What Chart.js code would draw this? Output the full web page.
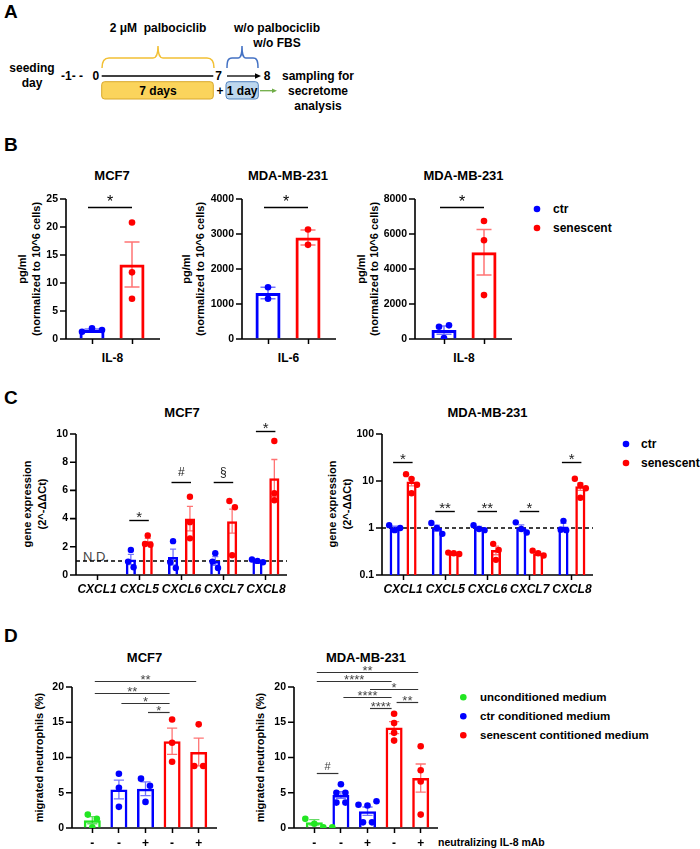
<!DOCTYPE html>
<html><head><meta charset="utf-8">
<script src="https://cdn.jsdelivr.net/npm/chart.js@4.4.1/dist/chart.umd.min.js"></script>
<style>
html,body{margin:0;padding:0;background:#fff;}
#page{position:relative;width:700px;height:849px;overflow:hidden;}
#txt{position:absolute;left:0;top:0;}
canvas{position:absolute;}
</style></head><body><div id="page"><svg id="txt" width="700" height="849" xmlns="http://www.w3.org/2000/svg"></svg></div>
<script>
// ================= DATA =================
// Panel B (ELISA, pg/ml normalized to 10^6 cells)
const bSeriesNames = ['ctr', 'senescent'];
const bTitles = ['MCF7', 'MDA-MB-231', 'MDA-MB-231'];
const bGenes = ['IL-8', 'IL-6', 'IL-8'];
const b1Means = [1.6, 13.3],   b1Sems = [0.18, 4.0],   b1Pts = [[1.3, 1.9, 1.6], [20.8, 11.9, 7.2]];
const b2Means = [1315, 2900],  b2Sems = [165, 215],    b2Pts = [[1480, 1150], [3130, 2690]];
const b3Means = [513, 4960],   b3Sems = [235, 1300],   b3Pts = [[700, 780, 60], [6740, 5640, 2510]];
const bYMax = [25, 4000, 8000], bYStep = [5, 1000, 2000];
const bSig = [[0, 1, 23.57, '*'], [0, 1, 3771, '*'], [0, 1, 7543, '*']];

// Panel C (gene expression 2^-ddCt)
const cTitles = ['MCF7', 'MDA-MB-231'];
const cGenes = ['CXCL1', 'CXCL5', 'CXCL6', 'CXCL7', 'CXCL8'];
const c1CtrMeans = [null, 1.1, 1.27, 1.0, 1.0],  c1CtrSems = [null, 0.36, 0.56, 0.31, 0.06];
const c1CtrPts = [[], [1.78, 0.95, 0.55], [2.4, 0.9, 0.5], [1.55, 0.95, 0.5], [1.1, 1.0, 0.9]];
const c1SenMeans = [null, 2.4, 4.0, 3.82, 6.87], c1SenSems = [null, 0.2, 0.87, 0.85, 1.32];
const c1SenPts = [[], [2.8, 2.2, 2.15], [5.55, 3.75, 2.6], [5.25, 4.8, 1.4], [9.5, 5.8, 5.3]];
const c2CtrMeans = [1.02, 1.0, 1.0, 1.02, 1.08],  c2CtrSems = [0.07, 0.15, 0.08, 0.15, 0.17];
const c2CtrPts = [[1.15, 0.9, 1.0], [1.28, 1.0, 0.75], [1.15, 0.95, 0.9], [1.32, 0.95, 0.8], [1.42, 0.92, 0.9]];
const c2SenMeans = [9.7, 0.29, 0.34, 0.29, 7.7],  c2SenSems = [1.8, 0.01, 0.07, 0.02, 1.4];
const c2SenPts = [[14, 11, 8.3, 5.5], [0.3, 0.29, 0.28], [0.46, 0.34, 0.21], [0.33, 0.29, 0.26], [11.2, 8.2, 7.0, 4.4]];
const c1YTicks = [0, 2, 4, 6, 8, 10];
const c2YTicks = [0.1, 1, 10, 100];
const c1Sig = [[1, 1, 3.91, '*'], [2, 2, 6.59, '#'], [3, 3, 6.59, '§'], [4, 4, 10.23, '*']];
const c2Sig = [[0, 0, 25.9, '*'], [1, 1, 2.3, '**'], [2, 2, 2.3, '**'], [3, 3, 2.3, '*'], [4, 4, 25.9, '*']];

// Panel D (neutrophil migration %)
const dTitles = ['MCF7', 'MDA-MB-231'];
const dTreat = ['-', '-', '+', '-', '+'];
const dGroups = ['unconditioned medium', 'ctr conditioned medium', 'senescent contitioned medium'];
const dGroupOf = [0, 1, 1, 2, 2];
const d1Means = [1.1, 5.47, 5.57, 12.3, 10.77], d1Sems = [0.5, 1.33, 0.98, 1.86, 1.97];
const d1Pts = [[1.9, 1.3, 0.1], [7.7, 5.7, 3.0], [7.0, 6.0, 3.7], [15.4, 12.1, 9.4], [14.7, 8.8, 8.8]];
const d2Means = [0.8, 4.68, 2.38, 14.25, 7.08], d2Sems = [0.38, 0.48, 0.6, 0.85, 2.0];
const d2Pts = [[1.9, 1.3, 0.6, 0.1, 0.1], [6.2, 5.0, 5.0, 3.6, 3.6], [3.3, 3.2, 3.8, 0.8, 0.8], [16.2, 14.9, 13.5, 12.4], [11.6, 8.2, 6.6, 1.9]];
const dYTicks = [0, 5, 10, 15, 20];
const d1Sig = [[0, 4, 20.8, '**'], [0, 3, 19.09, '**'], [1, 3, 17.76, '*'], [2, 3, 16.44, '*']];
const d2Sig = [[0, 4, 22.08, '**'], [0, 3, 20.9, '****'], [2, 4, 19.76, '*'], [1, 3, 18.52, '****'], [3, 4, 17.86, '**'], [2, 3, 17.01, '****'], [0, 1, 7.83, '#']];

// ================= STYLE =================
const FONT = "'Liberation Sans', Arial, Helvetica, sans-serif";
const BLUE = '#0000ff', RED = '#ff0000', GREEN = '#22e622';
const BLUE_E = 'rgba(0,0,255,0.55)', RED_E = 'rgba(255,0,0,0.55)', GREEN_E = 'rgba(20,200,20,0.65)';
const groupCol = [GREEN, BLUE, RED], groupErr = [GREEN_E, BLUE_E, RED_E];
Chart.defaults.font.family = FONT;
const page = document.getElementById('page');
const svg = document.getElementById('txt');
const NS = 'http://www.w3.org/2000/svg';

function el(tag, attrs) { const e = document.createElementNS(NS, tag); for (const k in attrs) e.setAttribute(k, attrs[k]); svg.appendChild(e); return e; }
function T(x, y, s, o = {}) {
  const t = el('text', { x, y, 'font-size': o.size || 12, 'font-weight': o.weight || 'bold', 'text-anchor': o.anchor || 'start',
    fill: o.color || '#000', 'font-family': FONT });
  if (o.style) t.setAttribute('font-style', o.style);
  if (o.rot) t.setAttribute('transform', `rotate(-90 ${x} ${y})`);
  t.textContent = s; return t;
}
function dot(x, y, col) { el('circle', { cx: x, cy: y, r: 3.3, fill: col }); }

// ================= PANEL A (schematic) =================
T(4, 18, 'A', { size: 19 }); T(4, 151, 'B', { size: 19 }); T(4, 403.5, 'C', { size: 19 }); T(4, 641.5, 'D', { size: 19 });
T(158, 32, '2 \u03bcM\u00a0 palbociclib', { anchor: 'middle' });
T(277, 31.5, 'w/o palbociclib', { anchor: 'middle' });
T(277, 47, 'w/o FBS', { anchor: 'middle' });
el('path', { d: 'M102,68 C102,61 104,58 109,58 L153,58 C156.5,58 158,55 158,46 C158,55 159.5,58 163,58 L207,58 C212,58 214,61 214,68', fill: 'none', stroke: '#f2c035', 'stroke-width': 1.5 });
el('path', { d: 'M227,68 C227,61 228,58 232,58 L238,58 C241,58 242,55 242,46 C242,55 243,58 246,58 L253,58 C257,58 258,61 258,68', fill: 'none', stroke: '#4472c4', 'stroke-width': 1.5 });
T(32, 72, 'seeding', { anchor: 'middle' }); T(32, 87, 'day', { anchor: 'middle' });
T(61, 80, '-1- -'); T(92.5, 80, '0');
el('line', { x1: 101.7, y1: 76, x2: 213.3, y2: 76, stroke: '#000', 'stroke-width': 1.3 });
T(218.5, 80, '7', { anchor: 'middle' });
el('line', { x1: 227, y1: 76, x2: 256, y2: 76, stroke: '#000', 'stroke-width': 1.3 });
el('polygon', { points: '255,73.3 261,76 255,78.7', fill: '#000' });
T(267, 80, '8', { anchor: 'middle' });
T(318, 80.3, 'sampling for', { anchor: 'middle' }); T(318, 95.3, 'secretome', { anchor: 'middle' }); T(318, 110.3, 'analysis', { anchor: 'middle' });
el('rect', { x: 101.7, y: 81.7, width: 111.6, height: 17.3, rx: 3, fill: '#fbd45c', stroke: '#d9a82a', 'stroke-width': 1 });
T(158, 94.8, '7 days', { anchor: 'middle' });
T(220, 94.8, '+', { anchor: 'middle' });
el('rect', { x: 226, y: 81.7, width: 32.3, height: 17.3, rx: 3, fill: '#bdd7ee', stroke: '#4f81bd', 'stroke-width': 1 });
T(242.2, 94.8, '1 day', { anchor: 'middle' });
el('line', { x1: 260, y1: 90.7, x2: 273, y2: 90.7, stroke: '#70ad47', 'stroke-width': 1.3 });
el('polygon', { points: '272,88.5 277,90.7 272,92.9', fill: '#70ad47' });

// ================= text of panels B-D =================
const bCenters = [112, 288, 463.5];
bTitles.forEach((t, i) => T(bCenters[i], 180, t, { anchor: 'middle', size: 13 }));
bGenes.forEach((t, i) => T(bCenters[i] + 0.5, 362, t, { anchor: 'middle', size: 12 }));
[[26, 39.5], [190, 203.5], [364.5, 378]].forEach(([a, b]) => {
  T(a, 269, 'pg/ml', { anchor: 'middle', size: 11, rot: true });
  T(b, 269, '(normalized to 10^6 cells)', { anchor: 'middle', size: 11, rot: true });
});
dot(537, 209, BLUE); dot(537, 228, RED);
T(553, 213.3, bSeriesNames[0]); T(553, 232.3, bSeriesNames[1]);

T(182, 417, cTitles[0], { anchor: 'middle', size: 13 }); T(487.5, 417, cTitles[1], { anchor: 'middle', size: 13 });
[[31, 46], [336, 350.5]].forEach(([a, b]) => {
  T(a, 504, 'gene expression', { anchor: 'middle', size: 11, rot: true });
  T(b, 504, '(2^-\u0394\u0394Ct)', { anchor: 'middle', size: 11, rot: true });
});
dot(626, 444, BLUE); dot(626, 463, RED);
T(641, 448.3, bSeriesNames[0]); T(641, 467.3, bSeriesNames[1]);
T(83, 560.5, 'N.D.', { size: 13, weight: 'normal', color: '#444' });

T(144.5, 662, dTitles[0], { anchor: 'middle', size: 13 }); T(366, 662, dTitles[1], { anchor: 'middle', size: 13 });
T(42.7, 757.5, 'migrated neutrophils (%)', { anchor: 'middle', size: 11, rot: true });
T(264.4, 757.5, 'migrated neutrophils (%)', { anchor: 'middle', size: 11, rot: true });
dGroups.forEach((g, i) => { dot(463.3, 697.3 + 19 * i, groupCol[i]); T(480, 701.4 + 19 * i, g, { size: 11.5 }); });
T(438, 845.5, 'neutralizing IL-8 mAb', { size: 10.5 });

// ================= chart factory =================
function swarm(pix, minD, step) {
  const off = new Array(pix.length).fill(0);
  if (!pix.length) return off;
  const idx = pix.map((p, i) => i).sort((a, b) => pix[a] - pix[b]);
  const clusters = []; let cur = [idx[0]];
  for (let k = 1; k < idx.length; k++) {
    if (pix[idx[k]] - pix[cur[cur.length - 1]] < minD) cur.push(idx[k]); else { clusters.push(cur); cur = [idx[k]]; }
  }
  clusters.push(cur);
  clusters.forEach(cl => { cl.sort((a, b) => a - b); const m = cl.length; cl.forEach((i, q) => off[i] = (q - (m - 1) / 2) * step); });
  return off;
}

function makePlugin(c) {
  return {
    id: 'gp',
    beforeDatasetsDraw(chart) {
      const ctx = chart.ctx, ca = chart.chartArea, ys = chart.scales.y;
      const ax = ca.left - c.extL;
      ctx.save();
      if (c.refLine != null) {
        const y = ys.getPixelForValue(c.refLine);
        ctx.setLineDash([4, 3]); ctx.lineWidth = 1.5; ctx.strokeStyle = '#000';
        ctx.beginPath(); ctx.moveTo(ax, y); ctx.lineTo(ca.right + c.extR, y); ctx.stroke();
        ctx.setLineDash([]);
      }
      ctx.strokeStyle = '#000'; ctx.lineWidth = 1.6;
      ctx.beginPath();
      ctx.moveTo(ax, ca.top); ctx.lineTo(ax, ca.bottom);
      ctx.moveTo(ax - 0.8, ca.bottom); ctx.lineTo(ca.right + c.extR, ca.bottom);
      ys.ticks.forEach(t => { const y = ys.getPixelForValue(t.value); ctx.moveTo(ax - 6, y); ctx.lineTo(ax, y); });
      ctx.stroke();
      ctx.restore();
    },
    afterDatasetDraw(chart, args) {
      const ds = chart.data.datasets[args.index];
      if (!ds.sems) return;
      const ctx = chart.ctx, ys = chart.scales.y;
      args.meta.data.forEach((bar, j) => {
        const m = ds.data[j], s = ds.sems[j];
        if (m == null || s == null) return;
        const col = Array.isArray(ds.errColor) ? ds.errColor[j] : ds.errColor;
        const yT = ys.getPixelForValue(m + s);
        const yB = ys.getPixelForValue(Math.max(m - s, ys.min));
        const hw = bar.width * c.capRatio / 2;
        ctx.save(); ctx.strokeStyle = col; ctx.lineWidth = c.errW;
        ctx.beginPath();
        ctx.moveTo(bar.x, yT); ctx.lineTo(bar.x, yB);
        ctx.moveTo(bar.x - hw, yT); ctx.lineTo(bar.x + hw, yT);
        ctx.moveTo(bar.x - hw, yB); ctx.lineTo(bar.x + hw, yB);
        ctx.stroke(); ctx.restore();
      });
    },
    afterDraw(chart) {
      const ctx = chart.ctx, xs = chart.scales.x, ys = chart.scales.y;
      (c.sig || []).forEach(([i0, i1, yv, lab]) => {
        const x0 = xs.getPixelForValue(i0) + c.sigIn[0], x1 = xs.getPixelForValue(i1) - c.sigIn[1];
        const y = Math.round(ys.getPixelForValue(yv)) + 0.5;
        ctx.save();
        ctx.strokeStyle = c.sigColor; ctx.lineWidth = c.sigW;
        ctx.beginPath(); ctx.moveTo(x0, y); ctx.lineTo(x1, y); ctx.stroke();
        const star = lab.includes('*');
        const fs = star ? c.sigStarSize : c.sigOtherSize;
        ctx.font = `normal ${fs}px ${FONT}`; ctx.fillStyle = c.sigTextColor;
        ctx.textAlign = 'center'; ctx.textBaseline = 'alphabetic';
        const center = y - (star ? c.sigOff[0] : c.sigOff[1]);
        ctx.fillText(lab, (x0 + x1) / 2, center + (star ? 0.575 : 0.36) * fs);
        ctx.restore();
      });
    }
  };
}

function yScaleOpts(c, yW, visible) {
  const o = {
    type: c.log ? 'logarithmic' : 'linear', min: c.yMin, max: c.yMax,
    ticks: { display: visible, font: { size: 10.5, weight: 'bold' }, color: '#000', padding: 2, callback: v => String(v) },
    grid: { display: visible, drawOnChartArea: false, drawTicks: visible, tickLength: c.extL + 6, tickColor: 'rgba(0,0,0,0)' },
    border: { display: false },
    afterFit: s => { s.width = yW; }
  };
  if (c.yStep) o.ticks.stepSize = c.yStep;
  if (c.yTicks) o.afterBuildTicks = s => { s.ticks = c.yTicks.map(v => ({ value: v })); };
  return o;
}

function newCanvas(c, W, H, yW, padT) {
  const cv = document.createElement('canvas');
  cv.width = W; cv.height = H;
  cv.style.left = (c.areaL - yW) + 'px'; cv.style.top = (c.areaT - padT) + 'px';
  cv.style.width = W + 'px'; cv.style.height = H + 'px';
  page.appendChild(cv);
  return cv;
}

function gpChart(c) {
  const yW = 60, padT = 50, padR = 25, xH = 32;
  const W = c.areaR - c.areaL + yW + padR, H = c.areaB - c.areaT + padT + xH;
  const n = c.labels.length;
  const common = {
    responsive: false, animation: false, events: [], devicePixelRatio: 1,
    layout: { padding: { top: padT, right: padR, left: 0, bottom: 0 } },
    plugins: { legend: { display: false }, tooltip: { enabled: false }, title: { display: false } }
  };
  // ---- bar chart (bars, error bars, axes, significance) ----
  const barSets = c.series.map(s => ({
    type: 'bar', data: s.means, sems: s.sems, errColor: s.errColor,
    borderColor: s.color, backgroundColor: 'rgba(255,255,255,0)', borderWidth: c.barBorder,
    categoryPercentage: c.catPct, barPercentage: c.barPct
  }));
  const barChart = new Chart(newCanvas(c, W, H, yW, padT), {
    type: 'bar',
    data: { labels: c.labels, datasets: barSets },
    options: Object.assign({}, common, {
      scales: {
        x: { type: 'category', offset: true,
          grid: { display: true, drawOnChartArea: false, drawTicks: true, tickLength: 5, tickWidth: 1.5, tickColor: '#000', offset: false },
          border: { display: false },
          ticks: { font: c.xFont, color: '#000', padding: c.xPad, maxRotation: 0, autoSkip: false },
          afterFit: s => { s.height = xH; } },
        y: yScaleOpts(c, yW, true)
      }
    }),
    plugins: [makePlugin(c)]
  });
  // ---- replicate points (scatter chart overlaid with identical layout) ----
  const ptSets = c.series.map(s => {
    const pts = [], cols = [];
    s.pts.forEach((arr, i) => arr.forEach(v => {
      pts.push({ x: i, y: v, cat: i });
      cols.push(Array.isArray(s.color) ? s.color[i] : s.color);
    }));
    return { data: pts, pointRadius: c.r, pointHoverRadius: c.r, pointBackgroundColor: cols, pointBorderWidth: 0, borderWidth: 0, showLine: false };
  });
  const hidden = { ticks: { display: false }, grid: { display: false }, border: { display: false } };
  const ptChart = new Chart(newCanvas(c, W, H, yW, padT), {
    type: 'scatter',
    data: { datasets: ptSets },
    options: Object.assign({}, common, {
      scales: {
        x: Object.assign({ type: 'linear', min: -0.5, max: n - 0.5, afterFit: s => { s.height = xH; } }, hidden),
        y: Object.assign(yScaleOpts(c, yW, false), hidden)
      }
    })
  });
  // place each replicate on its own bar (bar element centre), spread overlapping ones
  const px = ptChart.scales.x, py = ptChart.scales.y;
  const unitPerPx = (px.max - px.min) / px.width;
  ptSets.forEach((d, k) => {
    const meta = barChart.getDatasetMeta(k);
    for (let i = 0; i < n; i++) {
      const pts = d.data.filter(p => p.cat === i);
      if (!pts.length) continue;
      const baseX = px.getValueForPixel(meta.data[i].x);
      const off = swarm(pts.map(p => py.getPixelForValue(p.y)), 2 * c.r + 0.5, c.step);
      pts.forEach((p, q) => { p.x = baseX + off[q] * unitPerPx; });
    }
  });
  ptChart.update('none');
  return barChart;
}

// ---------- Panel B charts ----------
const bCommon = { labels: ['', ''], catPct: 1, barPct: 0.625, r: 3.3, step: 10, barBorder: 3, capRatio: 0.6, errW: 1.5,
  xFont: { size: 12, weight: 'bold' }, xPad: 2, yMin: 0, areaT: 199, areaB: 339,
  sigIn: [-4, 0], sigW: 1.4, sigColor: '#000', sigTextColor: '#000', sigStarSize: 16, sigOtherSize: 13, sigOff: [9.5, 9] };
const bData = [[b1Means, b1Sems, b1Pts], [b2Means, b2Sems, b2Pts], [b3Means, b3Sems, b3Pts]];
const bArea = [[72, 152, 6, 8], [248, 328, 6, 8], [424, 504, 9, 8]];
bData.forEach(([m, s, p], i) => gpChart(Object.assign({}, bCommon, {
  areaL: bArea[i][0], areaR: bArea[i][1], extL: bArea[i][2], extR: bArea[i][3],
  yMax: bYMax[i], yStep: bYStep[i], sig: [bSig[i]],
  series: [{ means: m, sems: s, pts: p, color: [BLUE, RED], errColor: [BLUE_E, RED_E] }]
})));

// ---------- Panel C charts ----------
const cCommon = { labels: cGenes, catPct: 0.8, barPct: 0.6, r: 3.2, step: 5.5, barBorder: 2.5, capRatio: 0.6, errW: 1.3,
  xFont: { size: 12, weight: 'bold', style: 'italic' }, xPad: 2, areaT: 434, areaB: 575, extL: 0, extR: 0, refLine: 1,
  sigIn: [-10, -9.5], sigW: 1.4, sigColor: '#000', sigTextColor: '#222', sigStarSize: 15, sigOtherSize: 12, sigOff: [7, 10.5] };
gpChart(Object.assign({}, cCommon, { areaL: 76, areaR: 287, yMin: 0, yMax: 10, yTicks: c1YTicks, sig: c1Sig,
  series: [{ means: c1CtrMeans, sems: c1CtrSems, pts: c1CtrPts, color: BLUE, errColor: BLUE_E },
           { means: c1SenMeans, sems: c1SenSems, pts: c1SenPts, color: RED, errColor: RED_E }] }));
gpChart(Object.assign({}, cCommon, { areaL: 382, areaR: 593, log: true, yMin: 0.1, yMax: 100, yTicks: c2YTicks, sig: c2Sig,
  series: [{ means: c2CtrMeans, sems: c2CtrSems, pts: c2CtrPts, color: BLUE, errColor: BLUE_E },
           { means: c2SenMeans, sems: c2SenSems, pts: c2SenPts, color: RED, errColor: RED_E }] }));

// ---------- Panel D charts ----------
const dCommon = { labels: dTreat, catPct: 1, barPct: 0.64, r: 3.3, step: 9, barBorder: 2.5, capRatio: 0.6, errW: 1.3,
  xFont: { size: 12, weight: 'bold' }, xPad: 3, areaT: 687, areaB: 828, yMin: 0, yMax: 20, yTicks: dYTicks,
  sigIn: [2.5, 2.5], sigW: 1.2, sigColor: '#333', sigTextColor: '#444', sigStarSize: 13, sigOtherSize: 11, sigOff: [4.5, 7] };
const dCols = dGroupOf.map(g => groupCol[g]), dErr = dGroupOf.map(g => groupErr[g]);
gpChart(Object.assign({}, dCommon, { areaL: 79, areaR: 212, extL: 7, extR: 5, sig: d1Sig,
  series: [{ means: d1Means, sems: d1Sems, pts: d1Pts, color: dCols, errColor: dErr }] }));
gpChart(Object.assign({}, dCommon, { areaL: 301, areaR: 434, extL: 7, extR: 4, sig: d2Sig,
  series: [{ means: d2Means, sems: d2Sems, pts: d2Pts, color: dCols, errColor: dErr }] }));
</script>
</body></html>
